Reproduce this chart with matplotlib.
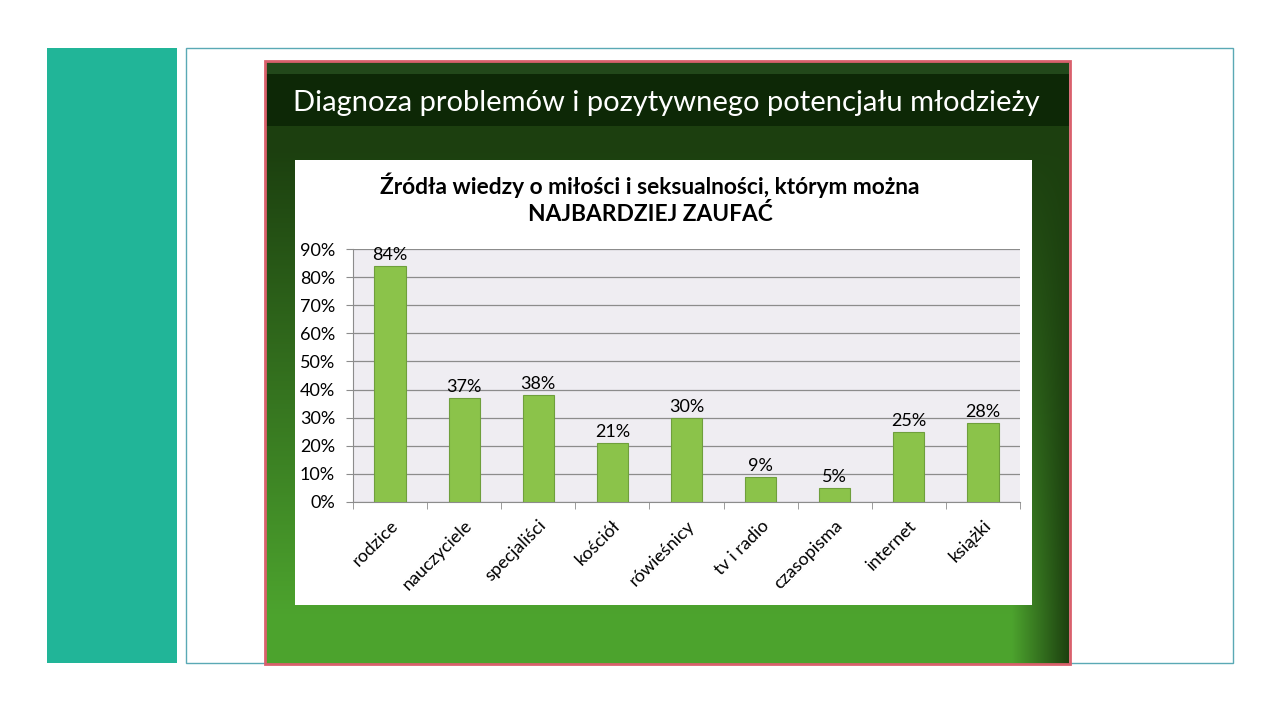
import numpy as np
import matplotlib.pyplot as plt
from matplotlib.patches import Rectangle
from matplotlib.ticker import MultipleLocator, PercentFormatter

plt.rcParams['font.family'] = ['Lato', 'DejaVu Sans']

categories = ['rodzice', 'nauczyciele', 'specjaliści', 'kościół', 'rówieśnicy',
              'tv i radio', 'czasopisma', 'internet', 'książki']
values = [84, 37, 38, 21, 30, 9, 5, 25, 28]
slide_title = 'Diagnoza problemów i pozytywnego potencjału młodzieży'
chart_title = 'Źródła wiedzy o miłości i seksualności, którym można\nNAJBARDZIEJ ZAUFAĆ'

W, H = 1280, 720
fig = plt.figure(figsize=(12.8, 7.2), dpi=100)
fig.patch.set_facecolor('white')


def px_axes(x0, y0, x1, y1, **kw):
    return fig.add_axes([x0 / W, 1 - y1 / H, (x1 - x0) / W, (y1 - y0) / H], **kw)


# slide decoration
bg = px_axes(0, 0, W, H)
bg.set_xlim(0, W)
bg.set_ylim(H, 0)
bg.axis('off')
bg.add_patch(Rectangle((47, 48), 130, 615, color='#21b598', lw=0))
bg.add_patch(Rectangle((186, 48), 1047, 615, fill=False, ec='#5aa9b5', lw=1))

# picture panel: green background shading
ny, nx = 400, 400
yy, xx = np.mgrid[0:1:ny * 1j, 0:1:nx * 1j]
light = np.clip((yy - 0.15) * 1.3, 0, 1) * (1 - np.clip((xx - 0.93) * 14, 0, 1))
dark = np.array([0.11, 0.25, 0.06])
bright = np.array([0.30, 0.64, 0.18])
img = dark + (bright - dark) * light[..., None]
bg.imshow(img, extent=(266, 1069, 664, 61), aspect='auto', zorder=1,
          interpolation='bilinear')
bg.add_patch(Rectangle((266, 61), 803, 13, color='#22481a', lw=0, zorder=2))
bg.add_patch(Rectangle((266, 74), 803, 52, color='#0d2806', lw=0, zorder=2))
bg.add_patch(Rectangle((265, 61), 805, 603, fill=False, ec='#d9606c', lw=2, zorder=3))
bg.text(666, 103, slide_title, color='white', fontsize=21, ha='center',
        va='center', zorder=4)

# white chart area
bg.add_patch(Rectangle((295, 160), 737, 445, color='white', lw=0, zorder=2))
bg.text(650, 199, chart_title, color='black', fontsize=16.4, fontweight='bold',
        ha='center', va='center', linespacing=1.25, zorder=4)

# bar chart
ax = px_axes(353, 249, 1020, 502)
ax.set_facecolor('#efedf2')
x = np.arange(len(categories))
bars = ax.bar(x, values, width=0.42, color='#8bc34a', edgecolor='#6f9f3c', lw=0.8,
              zorder=3)
for b, v in zip(bars, values):
    ax.text(b.get_x() + b.get_width() / 2, v + 1, f'{v}%', ha='center',
            va='bottom', fontsize=13, color='black')

ax.set_xlim(-0.5, len(categories) - 0.5)
ax.set_ylim(0, 90)
ax.yaxis.set_major_locator(MultipleLocator(10))
ax.yaxis.set_major_formatter(PercentFormatter(decimals=0))
ax.grid(axis='y', color='#8c8c8c', lw=0.9, zorder=1)
ax.set_xticks(x)
ax.set_xticklabels(categories, rotation=45, ha='right', rotation_mode='anchor',
                   fontsize=13)
ax.set_xticks(np.arange(len(categories) + 1) - 0.5, minor=True)
ax.tick_params(axis='x', which='major', length=0, pad=11)
ax.tick_params(axis='x', which='minor', length=5, color='#8c8c8c')
ax.tick_params(axis='y', length=5, color='#8c8c8c', labelsize=13, pad=8)
for side in ('top', 'right'):
    ax.spines[side].set_visible(False)
ax.spines['left'].set_color('#8c8c8c')
ax.spines['bottom'].set_color('#8c8c8c')

fig.savefig('out.png', dpi=100)
